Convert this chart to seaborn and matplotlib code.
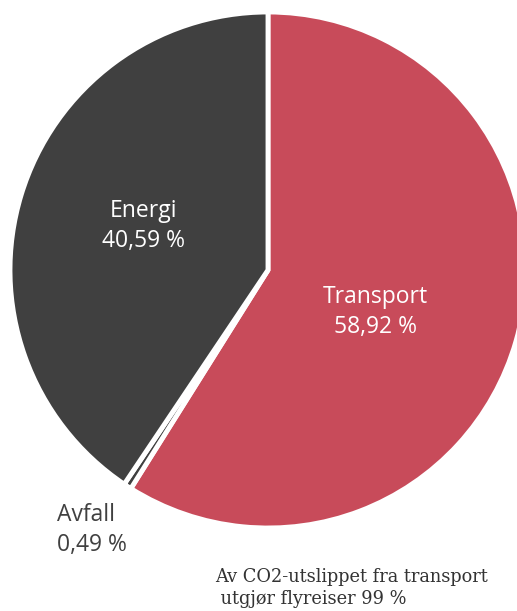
import numpy as np
import matplotlib
matplotlib.use("Agg")
import matplotlib.pyplot as plt
import seaborn as sns

# --- data ---
sectors = ["Transport", "Avfall", "Energi"]
shares = [58.92, 0.49, 40.59]
share_labels = ["58,92 %", "0,49 %", "40,59 %"]
colors = ["#C84B5A", "#404040", "#404040"]
note = "Av CO2-utslippet fra transport\n utgjør flyreiser 99 %"

sns.set_theme(style="white")
plt.rcParams['font.family'] = ['Open Sans', 'DejaVu Sans']

W, H = 517, 611
fig = plt.figure(figsize=(W / 100, H / 100), dpi=100)
ax = fig.add_axes([0, 0, 1, 1])

cx, cy, R = 268, H - 270, 258
wedges, _ = ax.pie(shares, colors=colors, startangle=90, counterclock=False,
                   center=(cx, cy), radius=R,
                   wedgeprops=dict(edgecolor="white", linewidth=3.5))
ax.set_xlim(0, W)
ax.set_ylim(0, H)
ax.set_aspect("equal")
ax.axis("off")

# label anchor (pixels from top-left) and alignment per slice
label_pos = [(375, 312, "center"), (57, 530, "left"), (143, 226, "center")]
for w, name, lab, (lx, ly, ha) in zip(wedges, sectors, share_labels, label_pos):
    inside = ha == "center"
    ax.text(lx, H - ly, f"{name}\n{lab}", ha=ha, va="center",
            color="white" if inside else "#404040", fontsize=16.5,
            linespacing=1.3)

ax.text(215, H - 568, note, ha="left", va="top", fontsize=12.8,
        family=["DejaVu Serif"], color="#333333", linespacing=1.25)

fig.savefig("out.png", dpi=100)
